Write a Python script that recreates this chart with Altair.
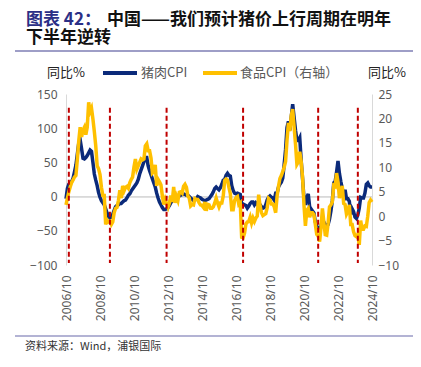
import altair as alt
import pandas as pd

# ---------------- data ----------------
start_year, start_month = 2006, 10
pork_yoy = [
    -3, 12, 18,                                           # 2006 Oct-Dec
    20, 22, 27, 36, 46, 62, 78, 83, 70, 56, 55, 57,       # 2007
    60, 64, 68, 66, 50, 33, 24, 16, 6, -1, -6, -9,        # 2008
    -12, -18, -24, -29, -31, -30, -26, -20, -15, -13, -12, -10,  # 2009
    -10, -8, -6, -5, -2, 2, 4, 8, 11, 14, 17, 20,         # 2010
    25, 33, 39, 45, 51, 57, 57, 45, 38, 32, 26, 20,       # 2011
    14, 5, -2, -8, -12, -16, -19, -19, -18, -16, -13, -9, # 2012
    -6, -3, -2, -1, 0, 1, 2, 3, 4, 3, 2, 2,               # 2013
    0, -2, -4, -6, -5, -3, 0, -1, -2, -4, -5, -6,         # 2014
    -5, -4, -3, 0, 3, 7, 12, 14, 12, 10, 13, 18,          # 2015
    24, 25, 31, 34, 31, 30, 16, 9, 5, 4, 5, 4,            # 2016
    3, -11, -11, -12, -13, -17, -14, -10, -8, -8, -12, -9,  # 2017
    -11, -13, -12, -15, -17, -16, -12, -5, -1, 1, -1, -2,   # 2018
    -5, 5, 5, 14, 18, 21, 27, 47, 69, 101, 110, 97,       # 2019
    116, 135, 116, 97, 82, 82, 86, 53, 26, -3, -12, -1,   # 2020
    4, -15, -18, -21, -24, -37, -44, -45, -47, -44, -33, -37,  # 2021
    -42, -43, -41, -33, -21, -6, 20, 22, 36, 52, 34, 22,  # 2022
    12, 4, 10, -3, -3, -7, -26, -18, -22, -30, -32, -27,  # 2023
    -17, -1, -2, -2, 5, 18, 20, 16, 14, 14,               # 2024 Jan-Oct
]
food_yoy = [
    2.3, 3.7, 5.0,
    6.0, 6.9, 7.4, 8.0, 8.3, 11.6, 15.4, 18.2, 16.2, 17.6, 18.2, 16.7,
    18.2, 23.3, 21.4, 22.1, 19.9, 17.3, 14.4, 10.3, 9.7, 8.5, 5.9, 4.2,
    4.2, -1.7, -0.8, -1.2, -1.1, -1.7, -1.2, 0.7, 1.6, 1.8, 3.2, 5.3,
    3.7, 6.2, 5.2, 5.9, 6.1, 5.7, 6.8, 7.5, 8.0, 10.1, 11.7, 9.6,
    10.3, 11.0, 11.7, 11.5, 11.7, 14.4, 14.8, 13.4, 13.4, 11.9, 8.8, 9.1,
    10.5, 6.2, 7.5, 7.0, 6.4, 4.2, 2.4, 3.4, 2.5, 1.8, 2.7, 4.2,
    2.9, 6.0, 2.7, 4.0, 3.2, 4.9, 5.0, 4.7, 6.1, 6.5, 5.9, 4.1,
    3.7, 2.1, 2.4, 2.3, 3.6, 3.4, 3.4, 2.7, 2.3, 2.2, 1.8, 2.9,
    1.1, 2.4, 2.3, 1.6, 1.6, 1.9, 2.7, 3.7, 2.7, 1.9, 2.7, 2.7,
    4.1, 7.3, 7.6, 7.4, 5.9, 4.6, 1.3, 1.3, 3.2, 3.8, 4.0, 2.4,
    2.7, -4.3, -4.4, -3.5, -1.6, -1.2, -1.1, -0.2, -1.4, -0.4, -1.1, -0.4,
    0.0, 4.4, 2.1, 0.7, 0.1, 0.3, 0.5, 1.7, 3.6, 3.3, 2.5, 2.5,
    1.9, 0.7, 4.1, 6.1, 7.7, 8.3, 9.1, 10.0, 11.2, 15.5, 19.1, 17.4,
    20.6, 21.9, 18.3, 14.8, 10.6, 11.1, 13.2, 11.2, 7.9, 2.2, -2.0, 1.2,
    1.6, -0.2, 0.7, 0.7, 0.3, -1.7, -3.7, -4.1, -5.2, -2.4, 1.6, -1.2,
    -3.8, -3.9, -1.5, 1.9, 2.3, 2.9, 6.3, 6.1, 8.8, 7.0, 3.7, 4.8,
    6.2, 2.6, 2.4, 0.4, 1.0, 2.3, -1.7, -1.7, -3.2, -4.0, -4.2, -3.7,
    -5.9, -0.9, -2.7, -2.7, -2.0, -2.1, 0.0, 2.8, 3.3, 2.9,
]
turning_points = ["2006/12", "2009/05", "2012/09", "2017/03", "2021/08", "2023/12"]
tick_labels = ["2006/10", "2008/10", "2010/10", "2012/10", "2014/10",
               "2016/10", "2018/10", "2020/10", "2022/10", "2024/10"]
left_ticks = [-100, -50, 0, 50, 100, 150]
right_ticks = [-10, -5, 0, 5, 10, 15, 20, 25]

n = len(pork_yoy)
months = []
for i in range(n):
    m = start_month - 1 + i
    months.append(f"{start_year + m // 12}/{m % 12 + 1:02d}")
idx = {m: i for i, m in enumerate(months)}

df = pd.DataFrame({"idx": list(range(n)), "month": months,
                   "pork": pork_yoy, "food": food_yoy})
rules_df = pd.DataFrame({"idx": [idx[m] for m in turning_points],
                         "top": [22.2] * len(turning_points),
                         "bot": [-9.6] * len(turning_points)})

W, H = 306, 171
CJK = "Noto Sans CJK SC"
NUM = "Noto Sans"
GRAY = "#595959"
tick_vals = [idx[t] for t in tick_labels]
label_expr = "toString(2006 + floor(datum.value / 12)) + '/10'"

x_scale = alt.Scale(domain=[0, n - 1], nice=False, zero=False)
x_axis = alt.Axis(values=tick_vals, labelExpr=label_expr, labelAngle=270,
                  labelFont=NUM, labelFontSize=12, labelColor=GRAY,
                  labelOverlap=False, labelFlush=False, tickCount=len(tick_vals),
                  domain=False, ticks=False, grid=False, labelPadding=10,
                  title=None)

left_scale = alt.Scale(domain=[-100, 150], nice=False)
right_scale = alt.Scale(domain=[-10, 25], nice=False)
left_axis = alt.Axis(orient="left", values=left_ticks, tickCount=len(left_ticks),
                     labelFont=NUM, labelFontSize=12, labelColor=GRAY,
                     labelOverlap=False, labelFlush=False,
                     domain=True, domainColor="#d9d9d9", ticks=False,
                     grid=False, labelPadding=9, title=None)
right_axis = alt.Axis(orient="right", values=right_ticks, tickCount=len(right_ticks),
                      labelFont=NUM, labelFontSize=12, labelColor=GRAY,
                      labelOverlap=False, labelFlush=False,
                      domain=True, domainColor="#d9d9d9", ticks=False,
                      grid=False, labelPadding=6, title=None)


def X():
    return alt.X("idx:Q", scale=x_scale, axis=x_axis)


pork_line = alt.Chart(df).mark_line(color="#0B2A7A", strokeWidth=3.5).encode(
    x=X(), y=alt.Y("pork:Q", scale=left_scale, axis=left_axis))
zero_rule = alt.Chart(df).mark_rule(color="#d9d9d9", strokeWidth=1).encode(
    y=alt.datum(0, scale=left_scale, axis=left_axis))

food_line = alt.Chart(df).mark_line(color="#FFC000", strokeWidth=3.5).encode(
    x=X(), y=alt.Y("food:Q", scale=right_scale, axis=right_axis))
red_rules = alt.Chart(rules_df).mark_rule(color="#C00000", strokeWidth=2,
                                          strokeDash=[5, 3]).encode(
    x=X(), y=alt.Y("top:Q", scale=right_scale, axis=right_axis), y2="bot:Q")

one = pd.DataFrame({"a": [0]})


def txt(s, x, y, size, color, font=CJK, weight="normal", align="left"):
    return alt.Chart(one).mark_text(align=align, baseline="middle", font=font,
                                    fontSize=size, fontWeight=weight,
                                    color=color).encode(
        x=alt.value(x), y=alt.value(y), text=alt.value(s))


def hline(x1, x2, y, color, width):
    return alt.Chart(one).mark_rule(color=color, strokeWidth=width).encode(
        x=alt.value(x1), x2=alt.value(x2), y=alt.value(y))


decor = [
    txt("图表 42：", -40, -74, 17, "#2B2F86", weight="bold"),
    txt("中国——我们预计猪价上行周期在明年", 41, -74, 17, "#111111", weight="bold"),
    txt("下半年逆转", -40, -56, 17, "#111111", weight="bold"),
    hline(-51, 350, -43, "#7E7EB4", 1.5),
    txt("同比%", -19, -21, 13, "#222222"),
    hline(37, 71, -21, "#0B2A7A", 4),
    txt("猪肉CPI", 75, -21, 13, GRAY),
    hline(137, 171, -21, "#FFC000", 4),
    txt("食品CPI（右轴）", 174, -21, 13, GRAY),
    txt("同比%", 302, -21, 13, "#222222"),
    hline(-51, 350, 242, "#9A9AC6", 1.5),
    txt("资料来源：Wind，浦银国际", -41, 253, 11, "#333333"),
]

left_group = alt.layer(zero_rule, pork_line, *decor)
right_group = alt.layer(food_line, red_rules)

chart = alt.layer(left_group, right_group).resolve_scale(y="independent").properties(
    width=W, height=H,
    autosize=alt.AutoSizeParams(type="none"),
    padding={"left": 58, "top": 86, "right": 41, "bottom": 94},
).configure_view(stroke=None)

chart.save("out.html", embed_options={"renderer": "svg", "actions": False})
